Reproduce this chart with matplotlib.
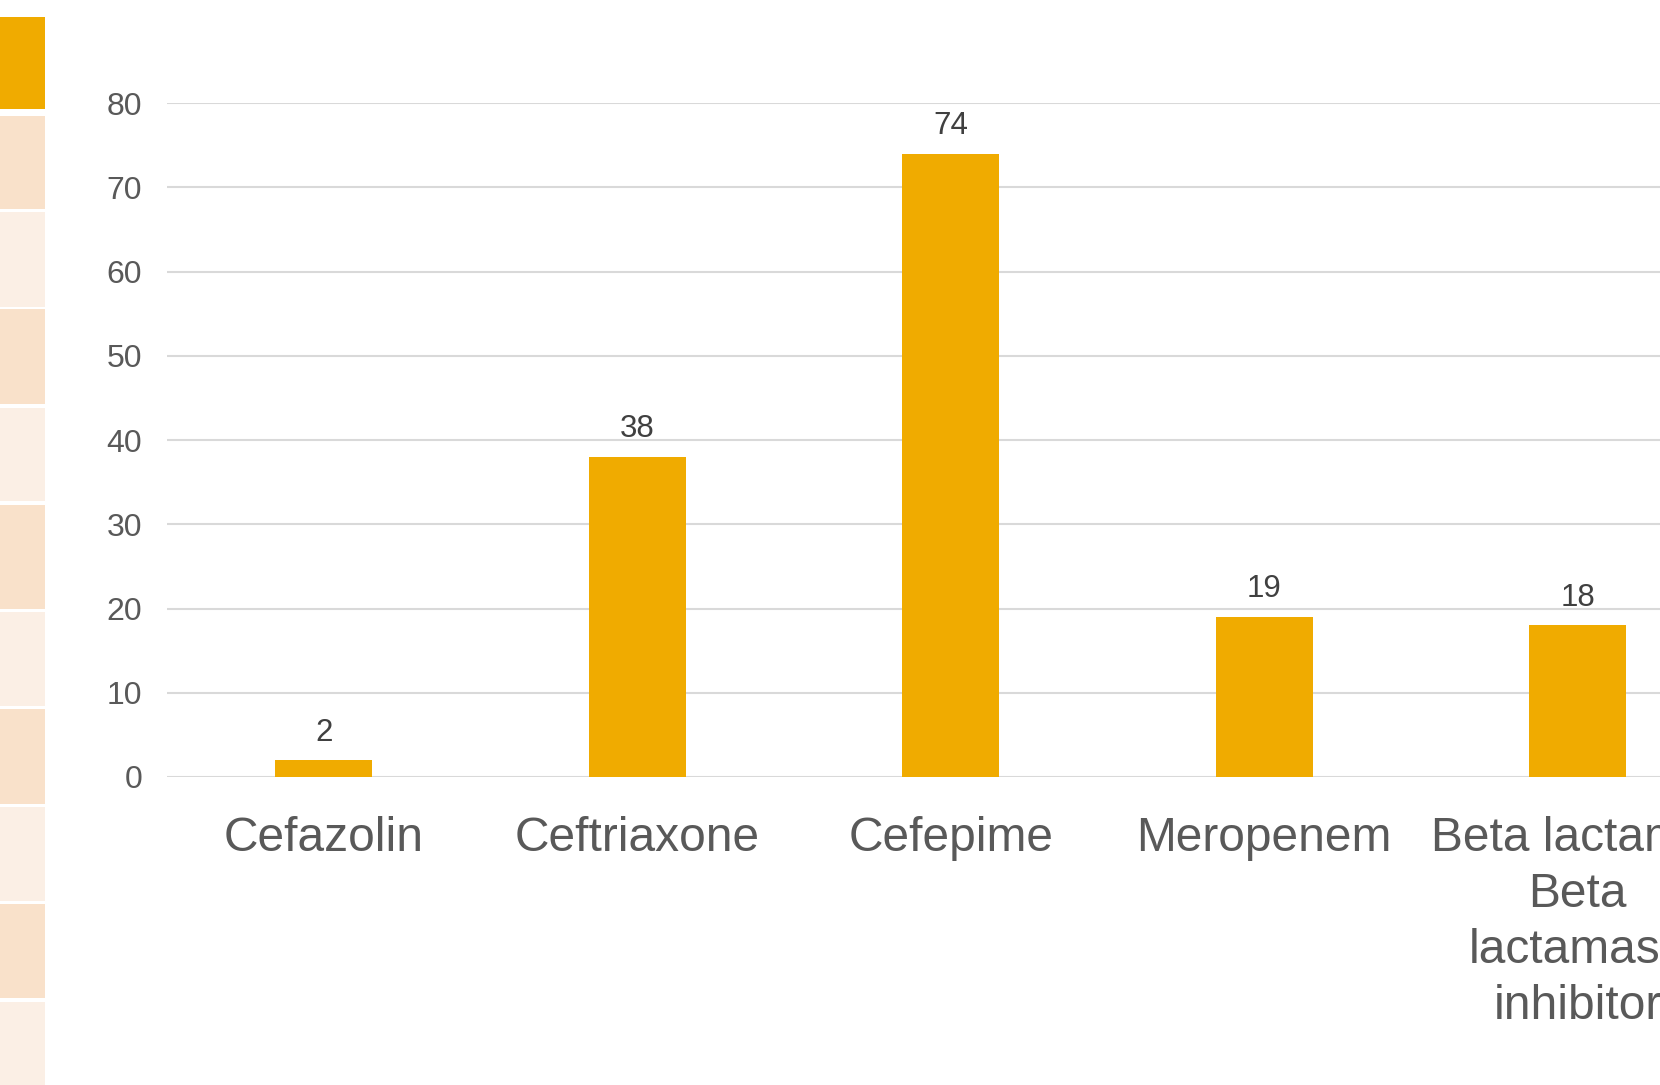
import numpy as np
import matplotlib
matplotlib.use("Agg")
import matplotlib.pyplot as plt
from matplotlib.patches import Rectangle

plt.rcParams['font.family'] = ['Liberation Sans', 'DejaVu Sans']

drugs = ["Cefazolin", "Ceftriaxone", "Cefepime", "Meropenem",
         "Beta lactam +\nBeta\nlactamase\ninhibitor"]
counts = [2, 38, 74, 19, 18]
yticks = [0, 10, 20, 30, 40, 50, 60, 70, 80]

bar_color = "#F0AB00"
text_color = "#595959"
grid_color = "#D9D9D9"

W, H = 1660, 1085
fig = plt.figure(figsize=(W / 100, H / 100), dpi=100)

# decorative strip on the left edge (pixel spans top -> bottom)
strip = [(17, 109, "#F0AB00"), (116, 209, "#F9E1CA"), (212, 307, "#FBEFE5"),
         (309, 404, "#F9E1CA"), (408, 501, "#FBEFE5"), (505, 609, "#F9E1CA"),
         (612, 706, "#FBEFE5"), (709, 804, "#F9E1CA"), (807, 901, "#FBEFE5"),
         (904, 998, "#F9E1CA"), (1002, 1085, "#FBEFE5")]
for top, bot, c in strip:
    fig.add_artist(Rectangle((0, 1 - bot / H), 45 / W, (bot - top) / H,
                             transform=fig.transFigure, color=c, lw=0))

# axes run off the right edge, like the cropped slide
ax = fig.add_axes([167 / W, (H - 777) / H, 5 * 313.5 / W, 674 / H])
x = np.arange(len(drugs))
bars = ax.bar(x, counts, width=0.31, color=bar_color, zorder=3)

ax.set_xlim(-0.5, len(drugs) - 0.5)
ax.set_ylim(0, 80)
ax.set_yticks(yticks)
ax.set_xticks(x)
ax.set_xticklabels(drugs, fontsize=34.5, color=text_color, linespacing=1.32)
ax.tick_params(axis="y", length=0, pad=18, labelsize=23, labelcolor=text_color)
ax.tick_params(axis="x", length=0, pad=28)
ax.yaxis.grid(True, color=grid_color, linewidth=1.5, zorder=0)
ax.set_axisbelow(True)
for s in ax.spines.values():
    s.set_visible(False)

for b, v in zip(bars, counts):
    ax.annotate(str(v), (b.get_x() + b.get_width() / 2, v),
                xytext=(0, 9), textcoords="offset points",
                ha="center", va="bottom", fontsize=22.5, color="#404040")

fig.savefig("out.png", dpi=100)
